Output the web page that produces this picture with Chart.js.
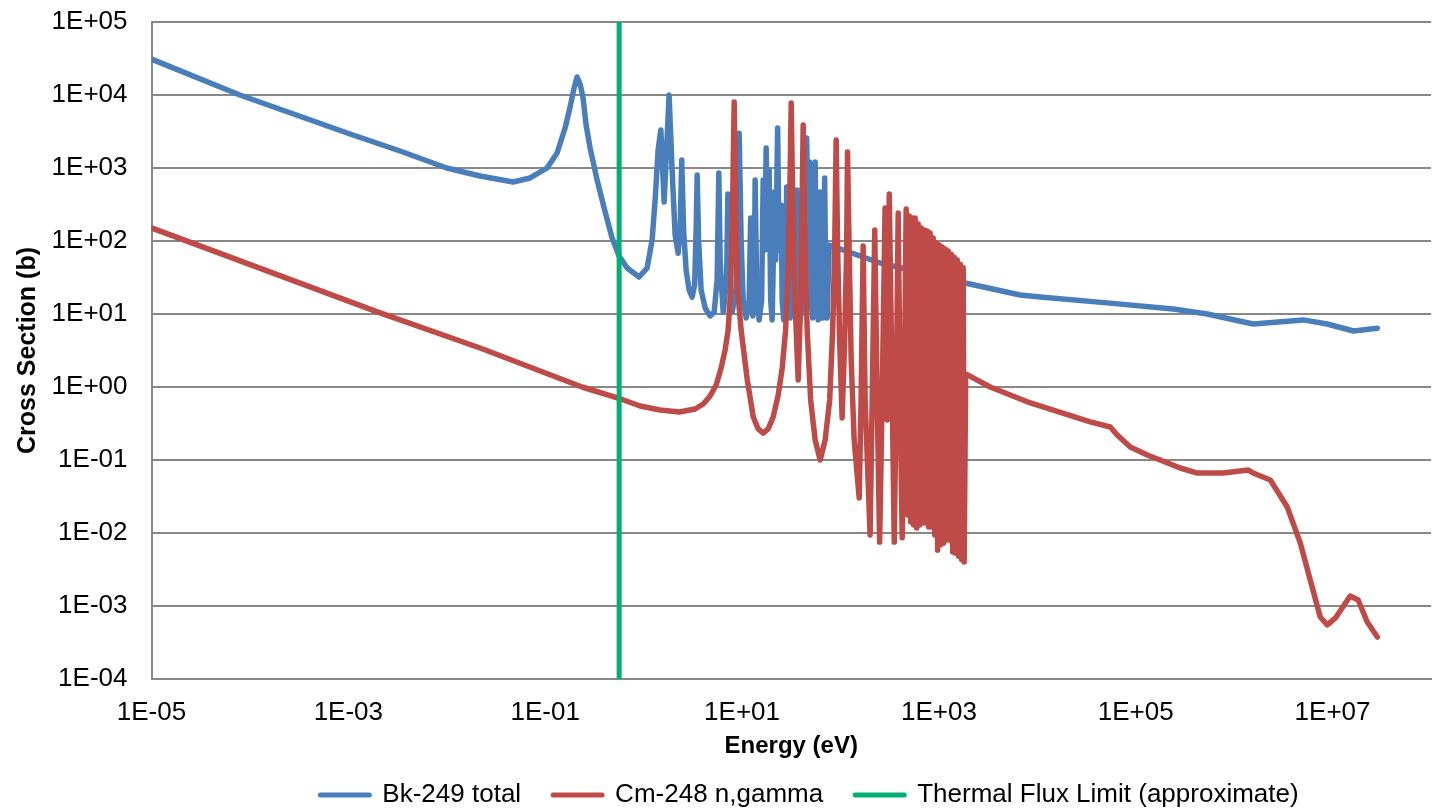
<!DOCTYPE html>
<html>
<head>
<meta charset="utf-8">
<title>Bk-249 and Cm-248 cross sections</title>
<script src="https://cdn.jsdelivr.net/npm/chart.js@4.4.1/dist/chart.umd.min.js"></script>
<style>
  html, body { margin: 0; padding: 0; background: #ffffff; overflow: hidden; }
  #wrap { width: 1434px; height: 809px; }
</style>
</head>
<body>
<div id="wrap"><canvas id="chart" width="1434" height="809"></canvas></div>
<script>
// Bk-249 total cross section (barns) versus neutron energy (eV)
const bkEnergy = [
  1e-5, 7.9e-5, 1.04e-3, 3.35e-3, 0.01, 0.0218, 0.0472, 0.0702, 0.1045, 0.132,
  0.1593, 0.179, 0.1966, 0.211, 0.2263, 0.2427, 0.2604, 0.286, 0.3368, 0.4063,
  0.4785, 0.5636, 0.6796, 0.900, 1.085, 1.22, 1.309, 1.404, 1.496, 1.616,
  1.815, 1.948, 2.09, 2.242, 2.349, 2.44, 2.55, 2.703, 2.90, 3.11,
  3.30, 3.416, 3.50, 3.62, 3.84, 4.22, 4.74, 5.21, 5.58, 5.81,
  5.99, 6.43, 6.97, 7.18, 7.39, 7.93, 8.71, 9.13,
  9.35, 9.79, 10.26, 11.01, 11.81, 12.23, 12.52, 12.88, 13.27, 13.59,
  14.08, 14.92, 15.82, 16.39, 16.97, 17.58, 18.20, 18.85, 19.53, 20.22,
  20.80, 21.19, 21.95, 23.00, 23.82, 24.97, 25.56, 26.47, 27.74, 28.40,
  29.41, 30.82, 31.70, 32.29, 33.21, 34.64, 35.63, 36.31, 37.34, 38.95,
  40.82, 42.77, 44.30, 45.35, 46.96, 48.64, 50.37, 52.18, 54.04, 55.32,
  57.30, 59.35, 61.04, 62.20, 63.67, 65.94, 67.51, 69.07, 70.72, 73.24,
  76.77, 253, 1850, 6700, 10700, 51300, 2.40e5, 5.33e5, 9.1e5, 1.56e6,
  5.04e6, 8.83e6, 1.63e7, 2.85e7
];
const bkSigma = [
  3.1e4, 1.0e4, 2920, 1710, 1000, 776, 643, 730, 1000, 1605,
  3530, 6850, 12470, 17650, 14150, 9100, 3880, 1880, 685, 250,
  110, 62, 42.7, 32.1, 42.7, 103, 365, 1765, 3320, 342,
  10000, 940, 121, 68, 141.5, 1290, 141.5, 40, 21.3, 17,
  25, 141.5, 800, 103, 21.3, 12.1, 9.4, 10.6, 29.2, 855,
  55, 10.6, 29.2, 440, 40, 10.6, 21.3, 365,
  3000, 103, 15.6, 8.8, 15.6, 207, 15.6, 9.4, 15.6, 685,
  21.3, 8.3, 15.6, 685, 75, 1880, 103, 940, 15.6, 8.3,
  55, 470, 55, 3530, 75, 311, 15.6, 8.3, 21.3, 550,
  21.3, 8.8, 21.3, 427, 21.3, 9.4, 21.3, 500, 21.3, 8.3,
  13.3, 15.6, 194, 2580, 141.5, 1210, 15.6, 8.8, 21.3, 1210,
  21.3, 8.3, 21.3, 470, 21.3, 8.8, 29.2, 730, 29.2, 8.8,
  88, 50, 26.6, 18.2, 17.1, 14.2, 11.7, 10, 8.55, 7.3,
  8.3, 7.3, 5.85, 6.4
];

// Cm-248 (n,gamma) cross section (barns) versus neutron energy (eV)
const cmEnergy = [
  1e-5, 2.0e-3, 0.0218, 0.237, 0.551, 0.921, 1.471, 2.30, 3.34, 4.03,
  4.74, 5.46, 6.13, 6.73, 7.22, 7.66, 8.03, 8.32, 8.61, 9.02,
  9.79, 11.3, 13.0, 14.58, 16.4, 18.42, 20.7, 23.3, 25.6, 27.7,
  29.4, 30.5, 31.6, 32.7, 34.2, 37.2, 39.4, 40.8, 41.8, 43.3,
  45.9, 49.8, 55.3, 62.2, 69.9, 77.7, 83.3, 87.3, 90.4, 93.6,
  98.1, 104, 110.3, 115.6, 118, 122.6, 128.5, 137.8, 155,
  162, 170, 178, 200, 210, 223, 236, 250, 265, 284,
  298, 313, 336, 352, 368, 386, 404, 424, 444,
  465, 482, 499, 517, 535, 554, 574, 595, 616, 638,
  661, 684, 709, 734, 760, 788, 816, 845, 875, 907,
  939, 972, 1007, 1043, 1080, 1119, 1159, 1200, 1243, 1288,
  1334, 1381, 1431, 1482, 1535, 1590, 1647, 1705, 1766, 1807,
  1872, 3320, 8510, 34500, 55100, 64900, 87900, 1.31e5, 1.77e5, 2.83e5,
  4.22e5, 7.75e5, 1.39e6, 1.56e6, 2.33e6, 3.46e6, 4.70e6, 5.93e6, 7.50e6, 8.84e6,
  1.07e7, 1.51e7, 1.82e7, 2.25e7, 2.85e7
];
const cmSigma = [
  151, 10.6, 3.42, 1.0, 0.706, 0.549, 0.484, 0.455, 0.50, 0.585,
  0.753, 1.064, 1.82, 3.21, 6.0, 21.3, 365, 8020, 365, 21.3,
  6.0, 1.25, 0.388, 0.266, 0.234, 0.266, 0.388, 0.777, 1.82, 6.0,
  40, 365, 7770, 365, 21.3, 1.25, 15.6, 365, 3880, 141.5,
  6.0, 0.664, 0.188, 0.1, 0.188, 0.664, 6.0, 75, 2420, 75,
  4.4, 0.376, 4.4, 75, 1660, 75, 2.34, 0.188, 0.0302,
  0.664, 85.5, 0.664, 0.0094, 0.664, 142, 0.664, 0.0075, 0.664, 283,
  0.353, 440, 0.664, 0.0075, 0.664, 242, 0.664, 0.0086, 0.664,
  274, 0.0177, 220, 0.0142, 207, 0.0129, 207, 0.0117, 171, 0.0129,
  151, 0.0137, 142, 0.0137, 137, 0.0121, 129, 0.0121, 110, 0.0094,
  94, 0.0058, 88, 0.0069, 83, 0.0073, 78, 0.0080, 73, 0.0080,
  66, 0.0055, 60, 0.0053, 55, 0.0048, 48, 0.0043, 43, 0.0040,
  1.51, 1.0, 0.604, 0.332, 0.283, 0.22, 0.151, 0.117, 0.1, 0.0777,
  0.0663, 0.0663, 0.073, 0.0663, 0.0532, 0.0227, 0.0073, 0.00227, 7.06e-4, 5.5e-4,
  6.86e-4, 1.37e-3, 1.21e-3, 6.04e-4, 3.76e-4
];

// Approximate upper energy of the thermal flux (eV)
const thermalLimit = 0.564;

// Axis ranges and tick values
const xTicks = [1e-5, 1e-3, 1e-1, 1e1, 1e3, 1e5, 1e7];
const yTicks = [1e-4, 1e-3, 1e-2, 1e-1, 1e0, 1e1, 1e2, 1e3, 1e4, 1e5];
const xRange = [1e-5, 1e8];
const yRange = [1e-4, 1e5];

const seriesNames = ['Bk-249 total', 'Cm-248 n,gamma', 'Thermal Flux Limit (approximate)'];
const seriesColors = ['#4A7EBB', '#BE4B48', '#00B070'];

const FONT = '"Liberation Sans", Arial, Helvetica, sans-serif';

function toPoints(xs, ys) {
  return xs.map((x, i) => ({ x: x, y: ys[i] }));
}

// "1E+05" style labels
function sciLabel(v) {
  const e = Math.round(Math.log10(v));
  return '1E' + (e < 0 ? '-' : '+') + String(Math.abs(e)).padStart(2, '0');
}

// Moves the legend row sideways so it sits under the plot like the original layout
const legendOffset = {
  id: 'legendOffset',
  afterLayout(chart) {
    const lg = chart.legend;
    if (lg) { lg.left += 94; lg.right += 94; }
  }
};

new Chart(document.getElementById('chart').getContext('2d'), {
  type: 'line',
  data: {
    datasets: [
      {
        label: seriesNames[0],
        data: toPoints(bkEnergy, bkSigma),
        borderColor: seriesColors[0],
        backgroundColor: seriesColors[0],
        borderWidth: 5.5,
        order: 2
      },
      {
        label: seriesNames[1],
        data: toPoints(cmEnergy, cmSigma),
        borderColor: seriesColors[1],
        backgroundColor: seriesColors[1],
        borderWidth: 5.5,
        order: 1
      },
      {
        label: seriesNames[2],
        data: [{ x: thermalLimit, y: yRange[0] }, { x: thermalLimit, y: yRange[1] }],
        borderColor: seriesColors[2],
        backgroundColor: seriesColors[2],
        borderWidth: 5,
        borderCapStyle: 'butt',
        order: 0
      }
    ]
  },
  options: {
    responsive: false,
    animation: false,
    devicePixelRatio: 1,
    events: [],
    layout: { padding: { top: 22, right: 3, left: 0, bottom: -9 } },
    elements: {
      point: { radius: 0, hoverRadius: 0 },
      line: { tension: 0, fill: false, borderJoinStyle: 'round', borderCapStyle: 'round' }
    },
    scales: {
      x: {
        type: 'logarithmic',
        min: xRange[0],
        max: xRange[1],
        afterBuildTicks: (s) => { s.ticks = xTicks.map(v => ({ value: v })); },
        afterFit: (s) => { s.height = 71; },
        ticks: {
          callback: (v) => sciLabel(v),
          color: '#000000',
          font: { family: FONT, size: 26 },
          padding: 18,
          autoSkip: false,
          maxRotation: 0
        },
        grid: { display: false, drawTicks: false },
        border: { display: true, color: '#888888', width: 2 },
        title: {
          display: true,
          text: 'Energy (eV)',
          color: '#000000',
          font: { family: FONT, size: 24, weight: 'bold', lineHeight: 1 },
          padding: { top: 0, bottom: -8 }
        }
      },
      y: {
        type: 'logarithmic',
        min: yRange[0],
        max: yRange[1],
        afterBuildTicks: (s) => { s.ticks = yTicks.map(v => ({ value: v })); },
        afterFit: (s) => { s.width = 151.5; },
        ticks: {
          callback: (v) => sciLabel(v),
          color: '#000000',
          font: { family: FONT, size: 26 },
          padding: 0
        },
        grid: {
          color: '#888888',
          lineWidth: 2,
          drawTicks: true,
          tickLength: 24,
          tickColor: 'rgba(0,0,0,0)'
        },
        border: { display: true, color: '#888888', width: 2 },
        title: {
          display: true,
          text: 'Cross Section (b)',
          color: '#000000',
          font: { family: FONT, size: 25, weight: 'bold', lineHeight: 1 },
          padding: { top: 16, bottom: 0 }
        }
      }
    },
    plugins: {
      tooltip: { enabled: false },
      legend: {
        position: 'bottom',
        labels: {
          usePointStyle: true,
          pointStyleWidth: 49,
          padding: 32,
          color: '#000000',
          font: { family: FONT, size: 26 },
          generateLabels: (chart) => chart.data.datasets.map((ds, i) => ({
            text: ds.label,
            strokeStyle: ds.borderColor,
            fillStyle: ds.borderColor,
            fontColor: '#000000',
            lineWidth: 5,
            lineCap: 'round',
            pointStyle: 'line',
            hidden: false,
            datasetIndex: i
          }))
        }
      }
    }
  },
  plugins: [legendOffset]
});
</script>
</body>
</html>
